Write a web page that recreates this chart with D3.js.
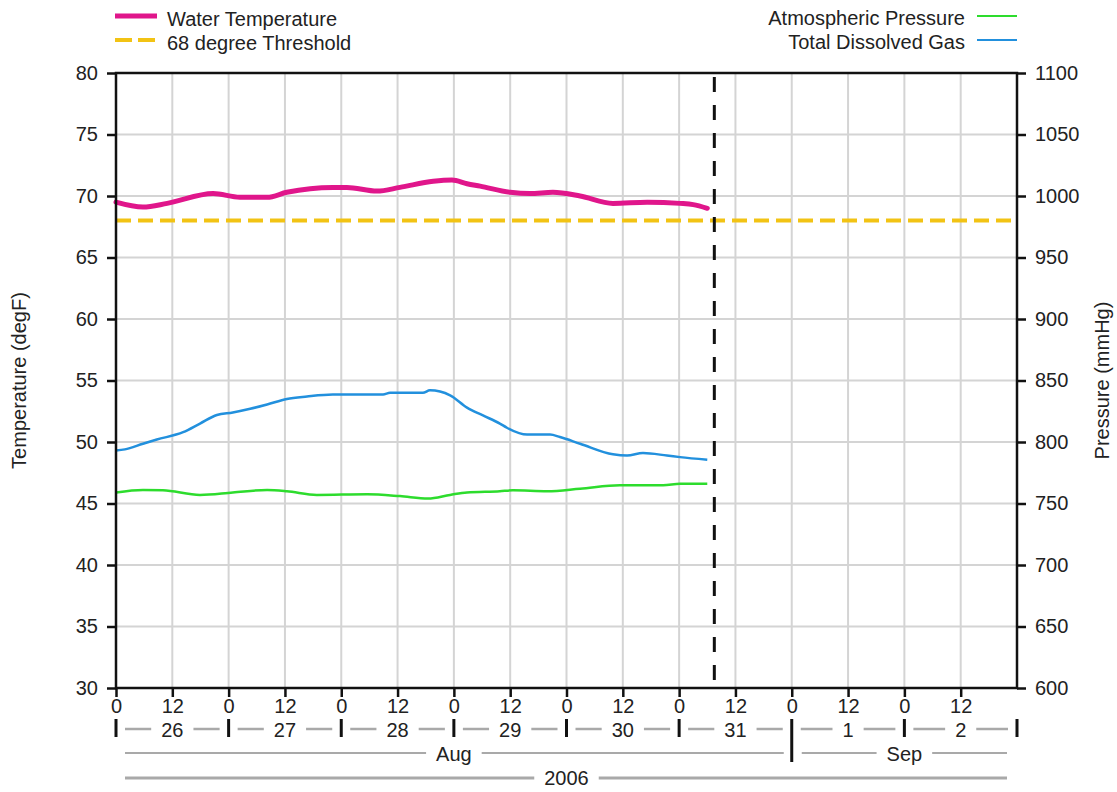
<!DOCTYPE html>
<html>
<head>
<meta charset="utf-8">
<script src="https://cdn.jsdelivr.net/npm/d3@7"></script>
<style>
  body { margin: 0; background: #fff; }
  svg text { font-family: "Liberation Sans", Arial, sans-serif; font-size: 20px; fill: #222; }
</style>
</head>
<body>
<svg width="1117" height="792"></svg>
<script>
// hours since 2006-08-26 00:00
var tempHours = [0, 5.75, 10.9, 20.7, 26.4, 32.2, 36.4, 46.2, 49.2, 55.6, 60.5, 67.6, 71.6, 74.8, 77.6, 84, 88.2, 93.1, 98.9, 105.9, 113.2, 120.2, 123, 126];
var tempValues = [69.5, 69.1, 69.4, 70.2, 69.9, 69.9, 70.3, 70.7, 70.7, 70.4, 70.7, 71.2, 71.3, 71.0, 70.8, 70.3, 70.2, 70.3, 70.0, 69.4, 69.5, 69.4, 69.3, 69.0];

var tdgHours = [0, 1.9, 5.75, 8.7, 14.3, 17.9, 21.5, 24.9, 28.6, 32.2, 36.4, 40.7, 46.2, 56.9, 58.4, 65.4, 66.9, 71.2, 74.8, 78.2, 81.8, 83.3, 87.6, 92.5, 94.6, 98.9, 105.9, 108.9, 112.3, 117.4, 120.2, 126];
var tdgValues = [793, 794, 798.6, 802, 808, 815, 822, 824, 827, 830.5, 835, 837, 838.6, 838.6, 840, 840, 842, 838, 828, 821.6, 815, 811.6, 806, 806, 804, 798.6, 790, 789, 791, 789, 787.7, 785.6];

var atmHours = [0, 5.75, 10, 17.9, 24.9, 32.2, 36.4, 42.8, 53.5, 60.5, 66.5, 71.2, 74.8, 81.8, 84.6, 91.9, 98.9, 107.4, 116.6, 120.2, 126];
var atmValues = [759, 761, 760.7, 757, 759, 761, 760, 757, 757.5, 756, 754, 757, 759, 760, 760.7, 760, 762, 764.8, 764.8, 766, 766];

var threshold = 68;
var markerHour = 127.5;

var tempTicks = [30, 35, 40, 45, 50, 55, 60, 65, 70, 75, 80];
var pressTicks = [600, 650, 700, 750, 800, 850, 900, 950, 1000, 1050, 1100];
var dayLabels = ['26', '27', '28', '29', '30', '31', '1', '2'];
var monthLabels = ['Aug', 'Sep'];
var monthStartDays = [0, 6, 8]; // day offsets of month boundaries
var yearLabel = '2006';

var svg = d3.select('svg');
var plotL = 116, plotR = 1017, plotT = 73, plotB = 688;
var t0 = Date.UTC(2006, 7, 26);

function hourDate(h) {
  return new Date(t0 + h * 3600000);
}

var xScale = d3.scaleUtc()
  .domain([hourDate(0), hourDate(192)])
  .range([plotL, plotR]);
var yTemp = d3.scaleLinear().domain([30, 80]).range([plotB, plotT]);
var yPress = d3.scaleLinear().domain([600, 1100]).range([plotB, plotT]);

var hourTicks = d3.range(0, 181, 12).map(hourDate);

// grid
svg.append('g').selectAll('line').data(hourTicks).enter().append('line')
  .attr('x1', function(d) { return xScale(d); })
  .attr('x2', function(d) { return xScale(d); })
  .attr('y1', plotT).attr('y2', plotB)
  .attr('stroke', '#d4d4d4').attr('stroke-width', 2);
svg.append('g').selectAll('line').data(tempTicks).enter().append('line')
  .attr('x1', plotL).attr('x2', plotR)
  .attr('y1', function(d) { return yTemp(d); })
  .attr('y2', function(d) { return yTemp(d); })
  .attr('stroke', '#d4d4d4').attr('stroke-width', 2);

// threshold
svg.append('line')
  .attr('x1', plotL).attr('x2', plotR)
  .attr('y1', yTemp(threshold)).attr('y2', yTemp(threshold))
  .attr('stroke', '#f2c314').attr('stroke-width', 4)
  .attr('stroke-dasharray', '15,7');

function series(hours, values) {
  return hours.map(function(h, i) { return [hourDate(h), values[i]]; });
}

function lineFor(yScale) {
  return d3.line()
    .x(function(d) { return xScale(d[0]); })
    .y(function(d) { return yScale(d[1]); })
    .curve(d3.curveMonotoneX);
}

svg.append('path').datum(series(atmHours, atmValues))
  .attr('d', lineFor(yPress))
  .attr('fill', 'none').attr('stroke', '#2ddc2d').attr('stroke-width', 2.5);
svg.append('path').datum(series(tdgHours, tdgValues))
  .attr('d', lineFor(yPress))
  .attr('fill', 'none').attr('stroke', '#2290dd').attr('stroke-width', 2.5);
svg.append('path').datum(series(tempHours, tempValues))
  .attr('d', lineFor(yTemp))
  .attr('fill', 'none').attr('stroke', '#e0168b').attr('stroke-width', 5)
  .attr('stroke-linecap', 'round');

// current time marker
svg.append('line')
  .attr('x1', xScale(hourDate(markerHour))).attr('x2', xScale(hourDate(markerHour)))
  .attr('y1', plotT + 4).attr('y2', plotB)
  .attr('stroke', '#111').attr('stroke-width', 3)
  .attr('stroke-dasharray', '15,13');

// axes
var leftAxis = svg.append('g')
  .attr('transform', 'translate(' + plotL + ',0)')
  .call(d3.axisLeft(yTemp).tickValues(tempTicks).tickSize(9).tickPadding(9));
var rightAxis = svg.append('g')
  .attr('transform', 'translate(' + plotR + ',0)')
  .call(d3.axisRight(yPress).tickValues(pressTicks).tickSize(9).tickPadding(9)
    .tickFormat(d3.format('d')));
var bottomAxis = svg.append('g')
  .attr('transform', 'translate(0,' + plotB + ')')
  .call(d3.axisBottom(xScale).tickValues(hourTicks).tickSize(9).tickPadding(2)
    .tickFormat(function(d) { return String(d.getUTCHours()); }));

[leftAxis, rightAxis, bottomAxis].forEach(function(g) {
  g.select('.domain').remove();
  g.selectAll('.tick line').attr('stroke', '#111').attr('stroke-width', 2.5);
  g.selectAll('.tick text').attr('font-size', 20).attr('fill', '#222')
    .attr('font-family', '"Liberation Sans", Arial, sans-serif');
});

// frame
svg.append('rect')
  .attr('x', plotL).attr('y', plotT)
  .attr('width', plotR - plotL).attr('height', plotB - plotT)
  .attr('fill', 'none').attr('stroke', '#111').attr('stroke-width', 2.5);

// axis titles
svg.append('text')
  .attr('transform', 'translate(26,' + ((plotT + plotB) / 2) + ') rotate(-90)')
  .attr('text-anchor', 'middle')
  .text('Temperature (degF)');
svg.append('text')
  .attr('transform', 'translate(1109,' + ((plotT + plotB) / 2) + ') rotate(-90)')
  .attr('text-anchor', 'middle')
  .text('Pressure (mmHg)');

// labelled span with gray rule broken around the text
function spanLabel(x0, x1, inset0, inset1, lineY, baseY, label, width) {
  var cx = (x0 + x1) / 2;
  var t = svg.append('text')
    .attr('x', cx).attr('y', baseY)
    .attr('text-anchor', 'middle')
    .text(label);
  var w = t.node().getComputedTextLength();
  var gap = 10;
  svg.append('line')
    .attr('x1', x0 + inset0).attr('x2', cx - w / 2 - gap)
    .attr('y1', lineY).attr('y2', lineY)
    .attr('stroke', '#a9a9a9').attr('stroke-width', width);
  svg.append('line')
    .attr('x1', cx + w / 2 + gap).attr('x2', x1 - inset1)
    .attr('y1', lineY).attr('y2', lineY)
    .attr('stroke', '#a9a9a9').attr('stroke-width', width);
}

// day row
dayLabels.forEach(function(lbl, i) {
  spanLabel(xScale(hourDate(i * 24)), xScale(hourDate(i * 24 + 24)), 9, 9, 729, 737, lbl, 2.5);
});
svg.append('g').selectAll('line').data(d3.range(0, 9)).enter().append('line')
  .attr('x1', function(d) { return xScale(hourDate(d * 24)); })
  .attr('x2', function(d) { return xScale(hourDate(d * 24)); })
  .attr('y1', 719)
  .attr('y2', function(d) { return d === 6 ? 762 : 737; })
  .attr('stroke', '#111').attr('stroke-width', 3);

// month row
monthLabels.forEach(function(lbl, i) {
  spanLabel(xScale(hourDate(monthStartDays[i] * 24)), xScale(hourDate(monthStartDays[i + 1] * 24)),
    i === 0 ? 9 : 10, i === 0 ? 8 : 10, 753, 761, lbl, 2);
});

// year row
spanLabel(plotL, plotR, 9, 10, 778, 785, yearLabel, 3);

// legends
var legLeft = [
  { label: 'Water Temperature', color: '#e0168b', width: 5, dash: null },
  { label: '68 degree Threshold', color: '#f2c314', width: 4, dash: '17,6' }
];
legLeft.forEach(function(d, i) {
  var y = 16 + i * 24;
  svg.append('line')
    .attr('x1', 115).attr('x2', 157).attr('y1', y).attr('y2', y)
    .attr('stroke', d.color).attr('stroke-width', d.width)
    .attr('stroke-dasharray', d.dash);
  svg.append('text').attr('x', 167).attr('y', y + 10).text(d.label);
});

var legRight = [
  { label: 'Atmospheric Pressure', color: '#2ddc2d' },
  { label: 'Total Dissolved Gas', color: '#2290dd' }
];
legRight.forEach(function(d, i) {
  var y = 16 + i * 24;
  svg.append('line')
    .attr('x1', 977).attr('x2', 1017).attr('y1', y).attr('y2', y)
    .attr('stroke', d.color).attr('stroke-width', 2);
  svg.append('text').attr('x', 965).attr('y', y + 9)
    .attr('text-anchor', 'end').text(d.label);
});
</script>
</body>
</html>
